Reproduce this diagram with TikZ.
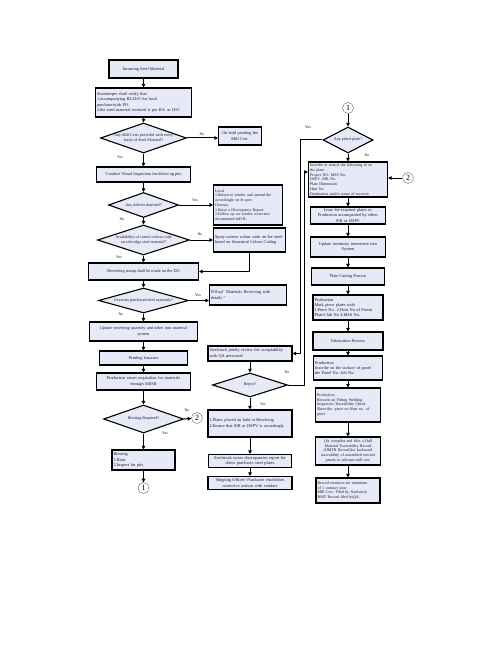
\documentclass[tikz,border=0pt]{standalone}
\usepackage{fontspec}
\setmainfont{Liberation Serif}
\usetikzlibrary{shapes.geometric,arrows.meta,positioning}

\definecolor{boxfill}{RGB}{230,234,246}
\definecolor{textcol}{RGB}{25,25,55}

\tikzset{
  flowbox/.style={draw, fill=boxfill, line width=1.1pt, inner xsep=1.5pt, inner ysep=1pt,
    font=\fontsize{4.3}{5.2}\selectfont, text=textcol},
  dense/.style={font=\fontsize{4}{4.75}\selectfont},
  decision/.style={diamond, draw, fill=boxfill, line width=1.1pt, inner sep=0pt},
  dtext/.style={font=\fontsize{4.1}{5}\selectfont, text=textcol, align=center, inner sep=0pt},
  arr/.style={line width=1pt, -{Triangle[length=3.6pt,width=3.6pt]}},
  lbl/.style={font=\fontsize{3.8}{4}\selectfont, inner sep=0pt},
  link/.style={circle, draw=black!60, line width=0.4pt, inner sep=0pt, minimum size=11pt,
    font=\fontsize{8}{8}\selectfont}
}

\begin{document}
\begin{tikzpicture}[x=1pt,y=-1pt]
\useasboundingbox (0,0) rectangle (500,647);

% left column
\node[flowbox, minimum width=69pt, minimum height=18pt, align=center] (incoming) at (143.5,69) {Incoming Steel Material};
\node[flowbox, text width=93pt, minimum height=29pt, align=left] (verify) at (143.5,102.5)
  {Storekeeper shall verify that:\\1.accompanying BL/D/O for local\\purchase/with PO.\\2.the steel material received is per B/L or D/O};
\node[decision, minimum width=86pt, minimum height=30pt] (millcert) at (143.5,138) {};
\node[dtext] (millcertt) at (millcert) {Any Mill Certs provided with every\\batch of Steel  Material?};
\node[flowbox, text width=40pt, minimum height=18pt, align=center] (onhold) at (240,136) {On hold pending the\\Mill Cert.};
\node[flowbox, minimum width=94pt, minimum height=15pt, align=center] (visual) at (143.5,174.5) {Conduct Visual  Inspection for  defect eg pits};
\node[decision, minimum width=70pt, minimum height=25pt] (defects) at (143.5,205) {};
\node[dtext] (defectst) at (defects) {Any defects detected?};
\node[flowbox, dense, text width=66pt, minimum height=40pt, align=left] (local) at (248,205)
  {Local\\1.Return to vendor and amend the\\accordingly on th spot\\Oversea\\1.Raise a Discrepancy Report\\2.Follow up on vendor corrective\\documented inD R.};
\node[decision, minimum width=92pt, minimum height=30pt] (colour) at (143.5,240) {};
\node[dtext] (colourt) at (colour) {Availability of correct colour code\\on side edge steel material?};
\node[flowbox, text width=69pt, minimum height=24pt, align=left] (spray) at (249.5,240)
  {Spray correct colour code on the steel\\based on Structural Colour Coding};
\node[flowbox, minimum width=110pt, minimum height=17pt, align=center] (stamp) at (143.5,271.5) {Receiving stamp shall be made on the DO};
\node[decision, minimum width=90pt, minimum height=25pt] (oversea) at (143.5,300.5) {};
\node[dtext] (overseat) at (oversea) {Overseas purchased steel  materials?};
\node[flowbox, text width=74pt, minimum height=20pt, align=left] (fillup) at (248,295)
  {Fill-up” Materials  Receiving with\\details “};
\node[flowbox, text width=105pt, minimum height=19pt, align=center] (update) at (143.5,331.5)
  {Update receiving quantity and other into material\\system};
\node[flowbox, minimum width=88pt, minimum height=14pt, align=center] (pending) at (143.5,358) {Pending Issuance};
\node[flowbox, text width=91pt, minimum height=17pt, align=center] (mssr) at (143.5,381.5)
  {Production raises requisition for materials\\through MSSR};
\node[decision, minimum width=80pt, minimum height=28pt] (blastq) at (143.5,419) {};
\node[dtext] (blastqt) at (blastq) {Blasting Required?};
\node[link] (linkb) at (197,418) {2};
\node[flowbox, text width=60pt, minimum height=20pt, align=left] (blasting) at (143.5,460)
  {Blasting\\1.Blast\\2.Inspect for pits};
\node[link] (linka) at (143.5,488) {1};

% middle column
\node[flowbox, text width=81pt, minimum height=15pt, align=left] (review) at (250,353.5)
  {Steelstock jointly review the acceptability\\with QA personnel};
\node[decision, minimum width=75pt, minimum height=24pt] (reject) at (250,385) {};
\node[dtext] (rejectt) at (reject) {Reject?};
\node[flowbox, text width=81pt, minimum height=27pt, align=left] (hold) at (250,423.5)
  {1.Plates placed on hold at Receiving\\2.Ensure that SIR or DSPV is accordingly};
\node[flowbox, text width=80pt, minimum height=13pt, align=center] (discrep) at (250,461)
  {Steelstock raises discrepancies report for\\direct purchases steel plates};
\node[flowbox, text width=81pt, minimum height=13pt, align=center] (shipping) at (250,483)
  {Shipping Officer/ Purchaser establishes\\corrective actions with vendors};

% right column
\node[link] (linkc) at (348,108) {1};
\node[decision, minimum width=50pt, minimum height=26pt] (pitted) at (348,140) {};
\node[dtext] (pittedt) at (pitted) {Any pitted plate?};
\node[flowbox, dense, text width=76pt, minimum height=35pt, align=left] (stencil) at (348,179.5)
  {Inscribe or stencil the following in on\\the plate:\\Project NO. MSS No.\\DSPV /SIR No.\\Plate Dimension\\Heat No\\Destination and/or name of receiver};
\node[link] (linkd) at (408,178) {2};
\node[flowbox, text width=72pt, minimum height=17pt, align=center] (issue) at (348,215.5)
  {Issue the required plates to\\Production accompanied by either\\SIR or DSPV};
\node[flowbox, text width=72pt, minimum height=20pt, align=center] (inventory) at (348,247)
  {Update inventory movement into\\System};
\node[flowbox, minimum width=73pt, minimum height=17pt, align=center] (cutting) at (348,276.5) {Plate Cutting Process};
\node[flowbox, text width=67pt, minimum height=25pt, align=left] (mark) at (348,307.5)
  {Production\\Mark piece plates with\\1.Piece No. 2.Heat No of Parent\\Plate3.Job No 4.MSS No.};
\node[flowbox, minimum width=70pt, minimum height=18pt, align=center] (fab) at (348,341) {Fabrication Process};
\node[flowbox, text width=66pt, minimum height=24pt, align=left] (panel) at (348,368)
  {Production\\Inscribe on the surface of panel\\the Panel No -Job No.};
\node[flowbox, dense, text width=62pt, minimum height=34pt, align=left] (records) at (348,405)
  {Production\\Records on Fitting  Welding\\Inspection Traceability Check\\Sheet the  -piece no Heat no. of\\piece};
\node[flowbox, dense, text width=62pt, minimum height=28pt, align=center] (hmtr) at (348,451)
  {QA compiles and files a Hull\\Material Traceability Record\\(HMTR Record)for backward\\traceability of assembled erected\\panels to relevant mill cert.};
\node[flowbox, dense, text width=61pt, minimum height=25pt, align=left] (retention) at (348,490.5)
  {Record retention for minimum\\of 1 contract year\\ Mill Cert. Filed by Steelstock\\HMT Record filed byQA};

% bends of the long connectors
\coordinate (yesbend) at (300,141);
\coordinate (nobend) at (304,385);

% left column connectors
\draw[arr] (incoming) -- (verify);
\draw[arr] (verify) -- (millcert);
\draw[arr] (millcert) -- (visual);
\draw[arr] (millcert.east) -- (onhold.west |- millcert.east);
\draw[arr] (visual) -- (defects);
\draw[arr] (defects.east) -- (local.west |- defects.east);
\draw[arr] (defects) -- (colour);
\draw[arr] (colour.east) -- (spray.west |- colour.east);
\draw[arr] (spray.south) |- (stamp.east);
\draw[arr] (colour) -- (stamp);
\draw[arr] (stamp) -- (oversea);
\draw[arr] (oversea.east) -- (fillup.west |- oversea.east);
\draw[arr] (oversea) -- (update);
\draw[arr] (update) -- (pending);
\draw[arr] (pending) -- (mssr);
\draw[arr] (mssr) -- (blastq);
\draw[arr] (blastq.east) -- (linkb);
\draw[arr] (blastq) -- (blasting);
\draw[arr] (blasting) -- (linka);

% middle column connectors
\draw[arr] (review) -- (reject);
\draw[arr] (reject) -- (hold);
\draw[arr] (hold) -- (discrep);
\draw[arr] (discrep) -- (shipping);
\draw[arr] (reject.east) -- (nobend) |- ([yshift=7.5pt]stencil.west);

% right column connectors
\draw[arr] (linkc) -- (pitted);
\draw[arr] (pitted.west) -- (pitted.west -| yesbend) |- (review.east);
\draw[arr] (pitted) -- (stencil);
\draw[arr] (linkd) -- (stencil.east |- linkd);
\draw[arr] (stencil) -- (issue);
\draw[arr] (issue) -- (inventory);
\draw[arr] (inventory) -- (cutting);
\draw[arr] (cutting) -- (mark);
\draw[arr] (mark) -- (fab);
\draw[arr] (fab) -- (panel);
\draw[arr] (panel) -- (records);
\draw[arr] (records) -- (hmtr);
\draw[arr] (hmtr) -- (retention);

% branch labels
\node[lbl] (l1) at (202,134) {No};
\node[lbl] (l2) at (120,157) {Yes};
\node[lbl] (l3) at (195,200) {Yes};
\node[lbl] (l4) at (122,219) {No};
\node[lbl] (l5) at (200,234) {No};
\node[lbl] (l6) at (119,257) {Yes};
\node[lbl] (l7) at (198,295) {Yes};
\node[lbl] (l8) at (121,314) {No};
\node[lbl] (l9) at (187,410) {No};
\node[lbl] (l10) at (165,433) {Yes};
\node[lbl] (l11) at (287,372) {No};
\node[lbl] (l12) at (263,404) {Yes};
\node[lbl] (l13) at (308,127) {Yes};
\node[lbl] (l14) at (367,155) {No};

\end{tikzpicture}
\end{document}
